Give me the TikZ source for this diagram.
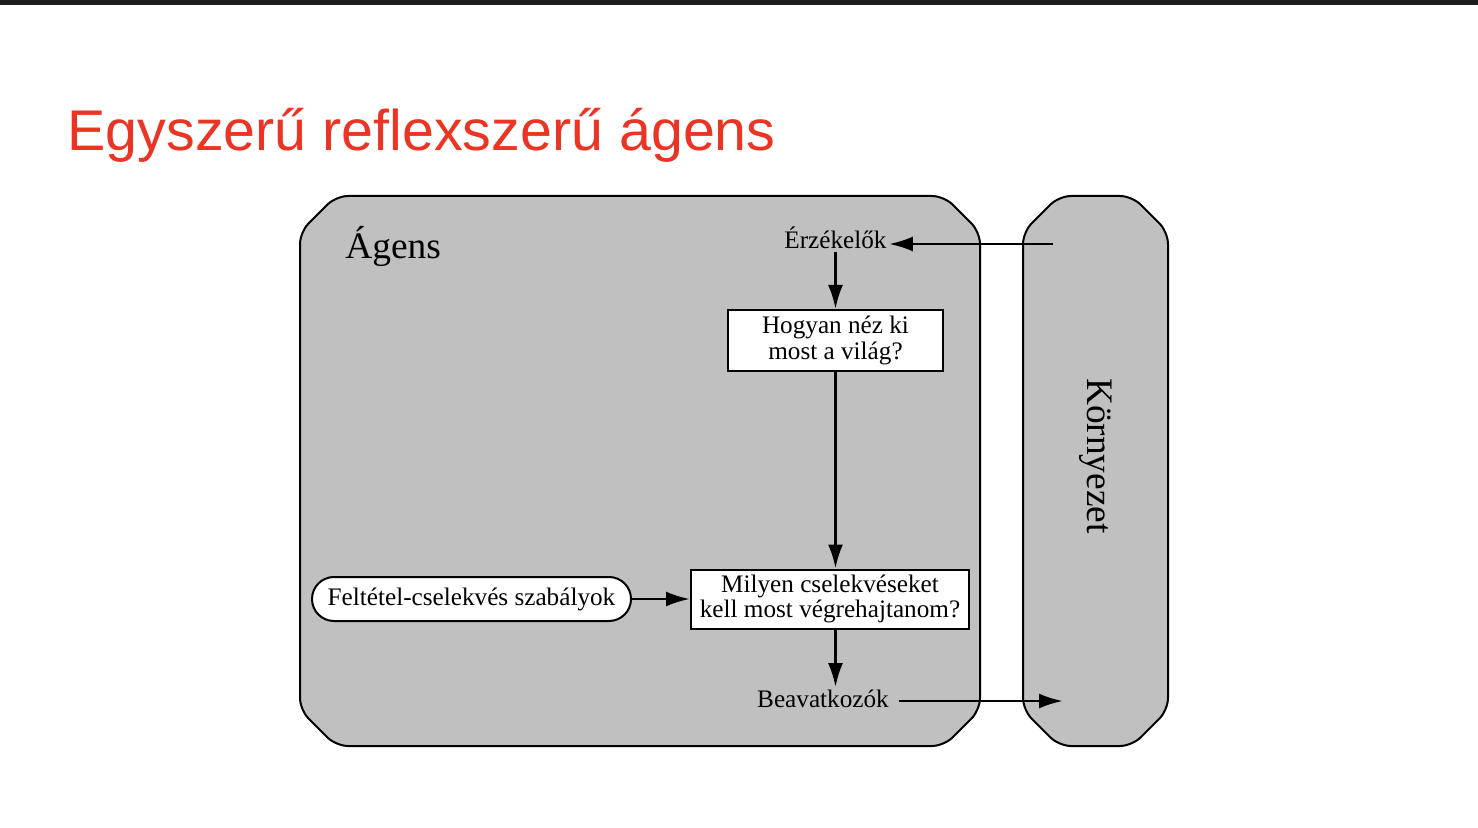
\documentclass[tikz,border=0pt]{standalone}
\usepackage{fontspec}
\setmainfont{Liberation Serif}
\newfontfamily\headfont{Liberation Sans}
\usetikzlibrary{positioning,calc}
\usetikzlibrary{arrows.meta}
\definecolor{SlideRed}{RGB}{234,52,36}
\definecolor{PanelGray}{RGB}{192,192,192}
\definecolor{BarGray}{RGB}{30,30,30}
\tikzset{
  part/.style={draw=black,fill=PanelGray,line width=1pt,rounded corners=6pt},
  question/.style={draw=black,fill=white,line width=1pt,align=center,inner sep=1pt,
    font=\fontsize{12.6}{12.6}\selectfont},
  rulebox/.style={draw=black,fill=white,line width=1pt,rounded corners=11pt,inner sep=1pt,
    minimum width=159.5pt,minimum height=22pt,font=\fontsize{12.6}{12.6}\selectfont},
  tag/.style={inner sep=1pt,font=\fontsize{12.6}{12.6}\selectfont},
  bigtag/.style={inner sep=1pt,font=\fontsize{18.7}{18.7}\selectfont},
  flow/.style={-{Latex[length=12pt,width=7.5pt]},line width=1.4pt},
}

\begin{document}
\begin{tikzpicture}[x=0.5pt,y=-0.5pt]
\useasboundingbox (0,0) rectangle (1478,828);
\fill[BarGray] (0,0) rectangle (1478,5.5);
\node[anchor=base west,inner sep=0pt,text=SlideRed,font=\headfont\fontsize{28.7}{28.7}\selectfont]
  (title) at (67,151) {Egyszerű reflexszerű ágens};
% agent and environment panels
\foreach \l/\r in {300/980,1023/1168}
  \draw[part] (\l,232) -- (\l+36,196) -- (\r-36,196) -- (\r,232)
    -- (\r,710) -- (\r-36,746) -- (\l+36,746) -- (\l,710) -- cycle;
\node[bigtag,anchor=base west] (agent) at (343,259) {Ágens};
\node[bigtag,rotate=-90] (env) at (1096,456) {Környezet};
% inside the agent
\node[tag,anchor=base] (sensors) at (835.5,249) {Érzékelők};
\node[question,minimum width=107.5pt,minimum height=30.5pt] (world) at (835.5,340.5)
  {Hogyan néz ki\\most a világ?};
\node[question,minimum width=139pt,minimum height=29.5pt] (action) at (830,599)
  {Milyen cselekvéseket\\kell most végrehajtanom?};
\node[rulebox] (rules) at (471.5,599) {Feltétel-cselekvés szabályok};
\node[tag,anchor=base] (effectors) at (823,707) {Beavatkozók};
\coordinate (percept) at (1053,244);
\coordinate (act) at (1063,701);
\draw[flow] (percept) -- (sensors.east |- percept);
\draw[flow] (sensors.south) -- (world.north);
\draw[flow] (world.south) -- (world.south |- action.north);
\draw[flow] (rules.east) -- (rules.east -| action.west);
\draw[flow] (world.south |- action.south) -- (world.south |- effectors.north);
\draw[flow] ([xshift=4pt]effectors.east |- act) -- (act);
\end{tikzpicture}
\end{document}
